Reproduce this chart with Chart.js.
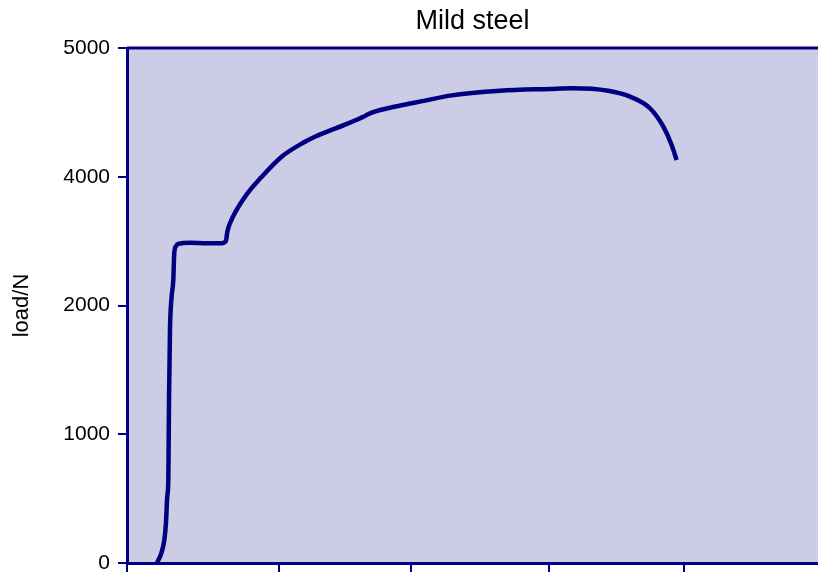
<!DOCTYPE html>
<html>
<head>
<meta charset="utf-8">
<script src="https://cdn.jsdelivr.net/npm/chart.js@4"></script>
<style>
  body { margin: 0; background: #fff; }
  canvas { display: block; }
</style>
</head>
<body>
<canvas id="chart" width="818" height="572"></canvas>
<script>
// extension (axis units) and load values
const extension = [0.217, 0.251, 0.270, 0.282, 0.291, 0.299, 0.304, 0.311, 0.322, 0.335,
  0.342, 0.355, 0.371, 0.456, 0.577, 0.685, 0.716, 0.726, 0.745, 0.854,
  0.975, 1.119, 1.288, 1.360, 1.601, 1.722, 1.771, 1.963, 2.156, 2.337,
  2.699, 3.061, 3.227, 3.481, 3.640, 3.784, 3.881, 3.941, 3.977];
const load = [0, 85, 179, 311, 513, 645, 1266, 1810, 2058, 2198,
  2408, 2462, 2478, 2488, 2483, 2483, 2503, 2573, 2638, 2845,
  3000, 3156, 3272, 3311, 3415, 3472, 3498, 3550, 3591, 3630,
  3668, 3682, 3687, 3668, 3622, 3532, 3389, 3247, 3130];
const yTickLabels = ["0", "1000", "2000", "4000", "5000"];
const xTickValues = [0, 1.10, 2.055, 3.05, 4.03];

const navy = '#000080';
const plotBg = 'rgb(204, 204, 230)';

const ctx = document.getElementById("chart").getContext("2d");

const plotFrame = {
  id: 'plotFrame',
  beforeDraw(chart) {
    const a = chart.chartArea;
    const c = chart.ctx;
    c.save();
    c.fillStyle = plotBg;
    c.fillRect(a.left, a.top, a.right - a.left, a.bottom - a.top);
    c.strokeStyle = navy;
    c.lineWidth = 3;
    c.beginPath();
    c.moveTo(a.left, a.top);
    c.lineTo(a.right, a.top);
    c.stroke();
    c.restore();
  }
};

const data = {
  datasets: [{
    label: 'Mild steel',
    data: extension.map((x, i) => ({ x: x, y: load[i] })),
    borderColor: navy,
    borderWidth: 4.5,
    pointRadius: 0,
    cubicInterpolationMode: 'monotone',
    fill: false
  }]
};

const config = {
  type: 'line',
  data: data,
  options: {
    responsive: false,
    animation: false,
    devicePixelRatio: 1,
    layout: { padding: 0 },
    plugins: {
      legend: { display: false },
      tooltip: { enabled: false },
      title: {
        display: true,
        fullSize: false,
        text: 'Mild steel',
        color: '#000',
        font: { family: 'Liberation Sans, Arial, sans-serif', size: 27, weight: 'normal' },
        padding: { top: 5, bottom: 10.6 }
      }
    },
    scales: {
      x: {
        type: 'linear',
        min: 0,
        max: 5,
        afterBuildTicks: (scale) => {
          scale.ticks = xTickValues.map(v => ({ value: v }));
        },
        afterFit: (scale) => { scale.height = 9; scale.paddingLeft = 0; scale.paddingRight = 0; },
        ticks: { display: false },
        grid: { drawOnChartArea: false, drawTicks: true, tickLength: 9, color: navy, lineWidth: 2 },
        border: { display: true, color: navy, width: 3 }
      },
      y: {
        min: 0,
        max: 4000,
        afterFit: (scale) => { scale.width = 127; scale.paddingTop = 0; scale.paddingBottom = 0; },
        ticks: {
          stepSize: 1000,
          padding: 8,
          color: '#000',
          font: { family: 'Liberation Sans, Arial, sans-serif', size: 21 },
          callback: (value, index) => yTickLabels[index]
        },
        grid: { drawOnChartArea: false, drawTicks: true, tickLength: 9, color: navy, lineWidth: 2 },
        border: { display: true, color: navy, width: 3 },
        title: {
          display: true,
          text: 'load/N',
          color: '#000',
          font: { family: 'Liberation Sans, Arial, sans-serif', size: 22 },
          padding: { top: 9, bottom: 0 }
        }
      }
    }
  },
  plugins: [plotFrame]
};

const chart = new Chart(ctx, config);
</script>
</body>
</html>
